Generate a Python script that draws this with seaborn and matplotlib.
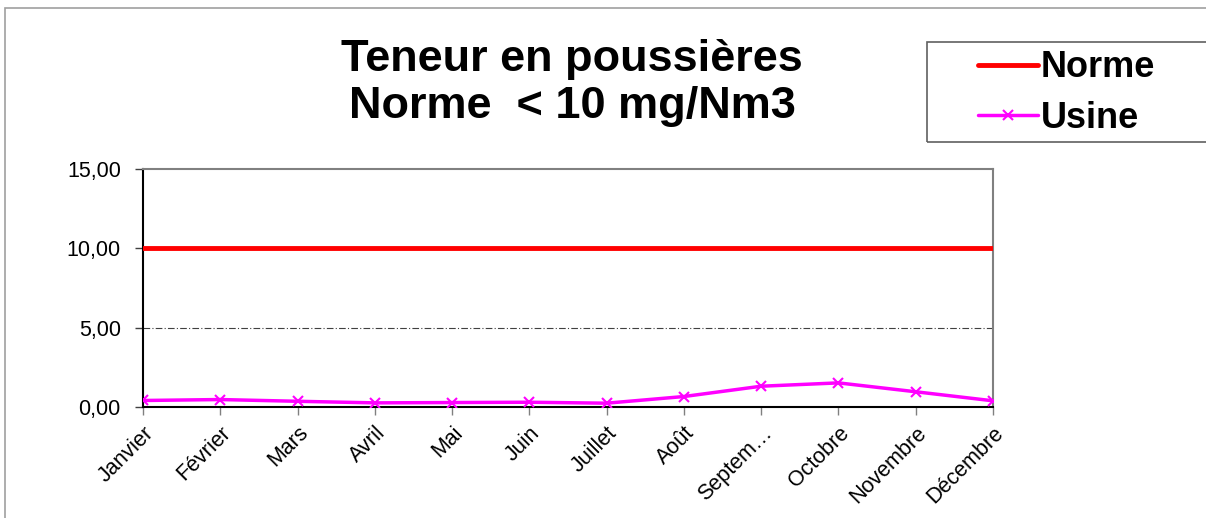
import matplotlib
matplotlib.use("Agg")
import matplotlib.pyplot as plt
import seaborn as sns
import pandas as pd
from matplotlib.patches import Rectangle
from matplotlib.ticker import FuncFormatter

mois = ["Janvier", "Février", "Mars", "Avril", "Mai", "Juin", "Juillet",
        "Août", "Septem…", "Octobre", "Novembre", "Décembre"]
norme = [10, 10, 10, 10, 10, 10, 10, 10, 10, 10, 10, 10]
usine = [0.41, 0.47, 0.36, 0.26, 0.28, 0.30, 0.24, 0.66, 1.31, 1.52, 0.96, 0.39]

sns.set_theme(style="white")
plt.rcParams['font.family'] = ['Liberation Sans', 'DejaVu Sans']
plt.rcParams['text.color'] = 'black'
plt.rcParams['xtick.labelcolor'] = 'black'
plt.rcParams['ytick.labelcolor'] = 'black'

fig = plt.figure(figsize=(12.06, 5.18), dpi=100)
ax = fig.add_axes([143/1206, 1-407/518, (993-143)/1206, (407-169)/518])

df = pd.DataFrame({"x": range(len(mois)), "Norme": norme, "Usine": usine})
sns.lineplot(data=df, x="x", y="Norme", ax=ax, color="#FF0000", linewidth=3.5,
             label="Norme", zorder=3)
sns.lineplot(data=df, x="x", y="Usine", ax=ax, color="#FF00FF", linewidth=2.5,
             marker="x", markersize=7, markeredgewidth=1.5, markeredgecolor="#FF00FF",
             label="Usine", zorder=4)

ax.set_xlim(0, len(mois) - 1)
ax.set_ylim(0, 15)
ax.set_yticks([0, 5, 10, 15])
ax.yaxis.set_major_formatter(FuncFormatter(lambda v, p: f"{v:.2f}".replace(".", ",")))
ax.set_xticks(range(len(mois)))
ax.set_xticklabels(mois, rotation=45, ha="right", rotation_mode="anchor", fontsize=15.5)
ax.tick_params(axis="y", labelsize=15.5, length=6, width=1, color="#404040",
               direction="out", left=True, pad=10)
ax.tick_params(axis="x", length=6, width=1, color="#808080", direction="out",
               bottom=True, pad=5)
ax.set_xlabel("")
ax.set_ylabel("")

ax.axhline(5, color="#404040", linewidth=0.8, linestyle=(0, (6, 2, 1, 2)), zorder=1)

for s in ["left", "bottom"]:
    ax.spines[s].set_color("black")
    ax.spines[s].set_linewidth(1.5)
for s in ["top", "right"]:
    ax.spines[s].set_color("#808080")
    ax.spines[s].set_linewidth(1.5)

fig.text(572/1206, 1-83/518, "Teneur en poussières\nNorme  < 10 mg/Nm3",
         ha="center", va="center", fontsize=32.5, fontweight="bold", linespacing=1.2)

# legend frame
fig.patches.append(Rectangle((927/1206, 1-142/518), 290/1206, 100/518,
                             transform=fig.transFigure, fill=False,
                             edgecolor="#606060", linewidth=1.2))
leg = ax.legend(loc="center left", bbox_to_anchor=(978/1206, 1-93/518),
                bbox_transform=fig.transFigure, frameon=False,
                prop={"size": 26, "weight": "bold"}, handlelength=1.65,
                handletextpad=0.08, borderpad=0.0, borderaxespad=0.0,
                labelspacing=0.42)

fig.patches.append(Rectangle((5/1206, -0.05), 1.2, 1.05 - 8/518, transform=fig.transFigure,
                             fill=False, edgecolor="#A0A0A0", linewidth=1.2))

fig.savefig("out.png", dpi=100, facecolor="white")
